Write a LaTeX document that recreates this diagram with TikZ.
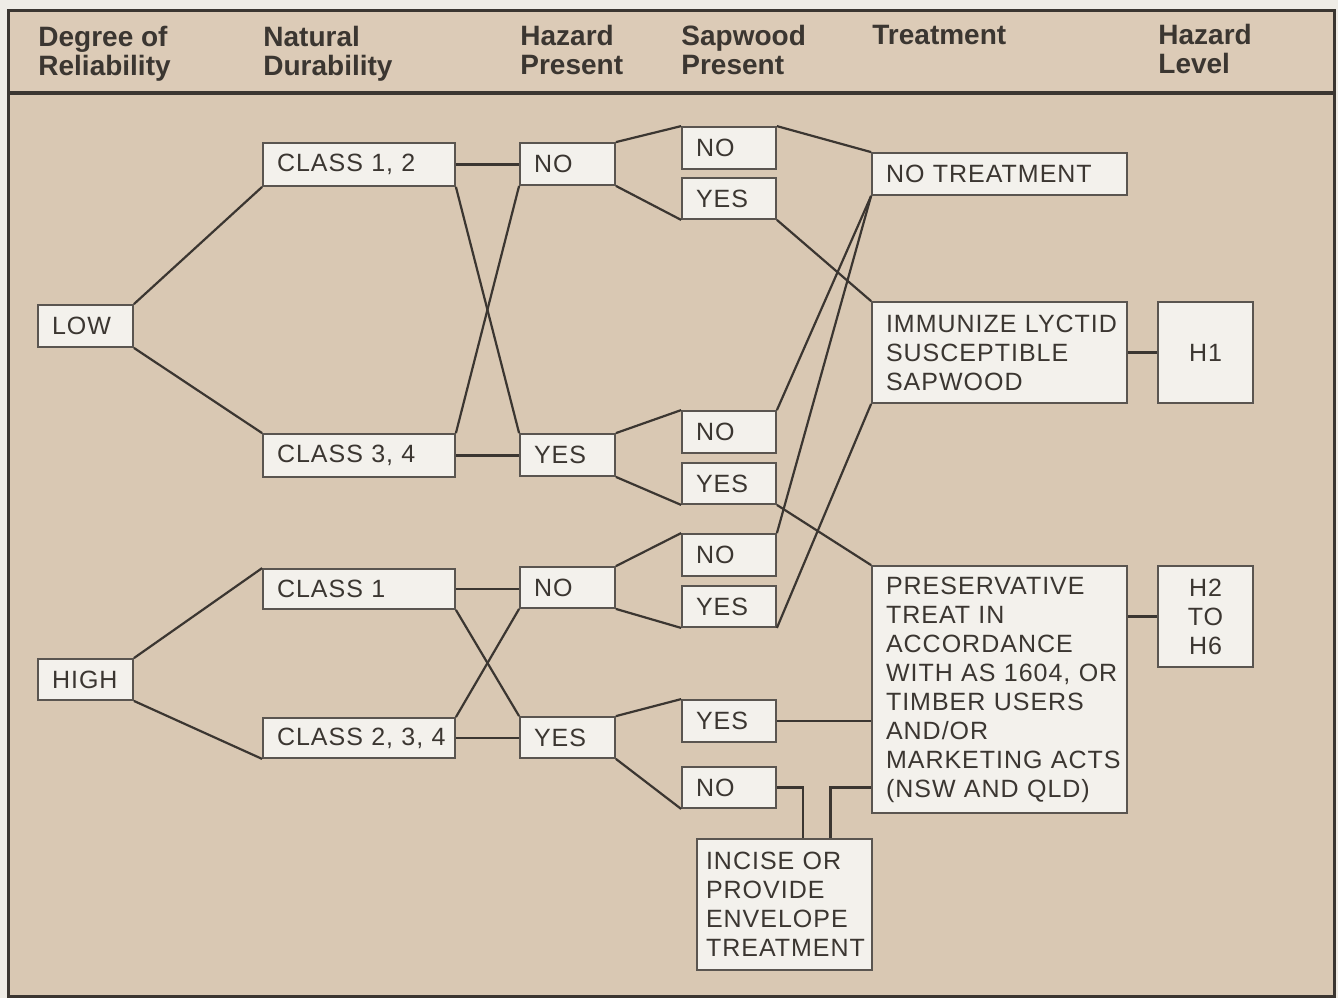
\documentclass[tikz,border=0pt]{standalone}
\usepackage{fontspec}
\setmainfont{Liberation Sans}
\newfontfamily\boxfont[LetterSpace=4]{Liberation Sans}
\newfontfamily\hdrfont{Liberation Sans}
\definecolor{paper}{HTML}{EFECE6}
\definecolor{tanbg}{HTML}{D9C8B3}
\definecolor{hdrbg}{HTML}{DCCBB7}
\definecolor{ink}{HTML}{3B3631}
\definecolor{boxfill}{HTML}{F3F1EC}
\definecolor{boxline}{HTML}{5A5550}
\tikzset{
  box/.style={draw=boxline, line width=0.9pt, fill=boxfill, inner xsep=7pt, inner ysep=0pt,
    align=left, font=\boxfont\fontsize{12.5}{14.5}\selectfont, text=ink},
  cbox/.style={box, align=center},
  conn/.style={draw=ink, line width=1.1pt},
  hdr/.style={anchor=north west, inner sep=0pt, align=left,
    font=\hdrfont\bfseries\fontsize{14}{14.5}\selectfont, text=ink}
}
\begin{document}
\begin{tikzpicture}[x=0.5pt,y=-0.5pt]
\useasboundingbox (0,0) rectangle (1338,998);
\fill[paper] (0,0) rectangle (1338,998);
\fill[tanbg] (8,10) rectangle (1334,996);
\fill[hdrbg] (8,10) rectangle (1334,93);
\draw[ink, line width=1.5pt] (8,10) rectangle (1334,996);
\draw[ink, line width=2pt] (8,93) -- (1334,93);

% headers
\node[hdr] (hd1) at (38,26) {Degree of\\Reliability};
\node[hdr] (hd2) at (263,26) {Natural\\Durability};
\node[hdr] (hd3) at (520,25) {Hazard\\Present};
\node[hdr] (hd4) at (681,25) {Sapwood\\Present};
\node[hdr] (hd5) at (872,25) {Treatment};
\node[hdr] (hd6) at (1158,24) {Hazard\\Level};

% reliability
\node[box, text width=33.5pt, minimum height=21pt] (low) at (85.5,326) {LOW};
\node[box, text width=33.5pt, minimum height=20.5pt] (high) at (85.5,679.5) {HIGH};
% durability
\node[box, text width=82pt, minimum height=21.5pt] (c12) at (359,164.5) {CLASS 1, 2};
\node[box, text width=82pt, minimum height=21.5pt] (c34) at (359,455.5) {CLASS 3, 4};
\node[box, text width=82pt, minimum height=20pt] (c1) at (359,589) {CLASS 1};
\node[box, text width=82pt, minimum height=20pt] (c234) at (359,738) {\mbox{CLASS 2, 3, 4}};
% hazard present
\node[box, text width=33.5pt, minimum height=21pt] (hn1) at (567.5,164) {NO};
\node[box, text width=33.5pt, minimum height=21pt] (hy1) at (567.5,455) {YES};
\node[box, text width=33.5pt, minimum height=20.5pt] (hn2) at (567.5,587.5) {NO};
\node[box, text width=33.5pt, minimum height=20.5pt] (hy2) at (567.5,737.5) {YES};
% sapwood present
\node[box, text width=33pt, minimum height=21pt] (sn1) at (729,148) {NO};
\node[box, text width=33pt, minimum height=20.5pt] (sy1) at (729,198.5) {YES};
\node[box, text width=33pt, minimum height=21pt] (sn2) at (729,432) {NO};
\node[box, text width=33pt, minimum height=20.5pt] (sy2) at (729,483.5) {YES};
\node[box, text width=33pt, minimum height=21pt] (sn3) at (729,555) {NO};
\node[box, text width=33pt, minimum height=20.5pt] (sy3) at (729,606.5) {YES};
\node[box, text width=33pt, minimum height=21pt] (sy4) at (729,721) {YES};
\node[box, text width=33pt, minimum height=20.5pt] (sn4) at (729,787.5) {NO};
% treatment
\node[box, text width=113.5pt, minimum height=21pt] (notr) at (999.5,174) {NO TREATMENT};
\node[box, text width=113.5pt, minimum height=50.5pt] (imm) at (999.5,352.5)
  {\mbox{IMMUNIZE LYCTID}\\SUSCEPTIBLE\\SAPWOOD};
\node[box, text width=113.5pt, minimum height=123.5pt] (pres) at (999.5,689.5)
  {PRESERVATIVE\\TREAT IN\\ACCORDANCE\\\mbox{WITH AS 1604, OR}\\\mbox{TIMBER USERS}\\AND/OR\\\mbox{MARKETING ACTS}\\\mbox{(NSW AND QLD)}};
\node[box, inner xsep=4.5pt, text width=78.5pt, minimum height=65.5pt] (incise) at (784.5,904.5)
  {INCISE OR\\PROVIDE\\ENVELOPE\\\mbox{TREATMENT}};
% hazard level
\node[cbox, text width=33.5pt, minimum height=50.5pt] (h1) at (1205.5,352.5) {H1};
\node[cbox, text width=33.5pt, minimum height=50.5pt] (h26) at (1205.5,616.5) {H2\\TO\\H6};

% connectors
\draw[conn] (low.north east) -- (c12.south west);
\draw[conn] (low.south east) -- (c34.north west);
\draw[conn] (high.north east) -- (c1.north west);
\draw[conn] (high.south east) -- (c234.south west);
\draw[conn] (c12.east) -- (c12.east -| hn1.west);
\draw[conn] (c12.south east) -- (hy1.north west);
\draw[conn] (c34.north east) -- (hn1.south west);
\draw[conn] (c34.east) -- (c34.east -| hy1.west);
\draw[conn] (c1.east) -- (c1.east -| hn2.west);
\draw[conn] (c1.south east) -- (hy2.north west);
\draw[conn] (c234.north east) -- (hn2.south west);
\draw[conn] (c234.east) -- (c234.east -| hy2.west);
\draw[conn] (hn1.north east) -- (sn1.north west);
\draw[conn] (hn1.south east) -- (sy1.south west);
\draw[conn] (hy1.north east) -- (sn2.north west);
\draw[conn] (hy1.south east) -- (sy2.south west);
\draw[conn] (hn2.north east) -- (sn3.north west);
\draw[conn] (hn2.south east) -- (sy3.south west);
\draw[conn] (hy2.north east) -- (sy4.north west);
\draw[conn] (hy2.south east) -- (sn4.south west);
\draw[conn] (sn1.north east) -- (notr.north west);
\draw[conn] (sy1.south east) -- (imm.north west);
\draw[conn] (sn2.north east) -- (notr.south west);
\draw[conn] (sy2.south east) -- (pres.north west);
\draw[conn] (sn3.north east) -- (notr.south west);
\draw[conn] (sy3.south east) -- (imm.south west);
\draw[conn] (sy4.east) -- (sy4.east -| pres.west);
\draw[conn] (sn4.east) -| ([xshift=9.25pt]incise.north);
\draw[conn] (pres.west |- sn4.east) -| ([xshift=23pt]incise.north);
\draw[conn] (imm.east) -- (h1.west);
\draw[conn] (h26.west -| pres.east) -- (h26.west);
\end{tikzpicture}
\end{document}
